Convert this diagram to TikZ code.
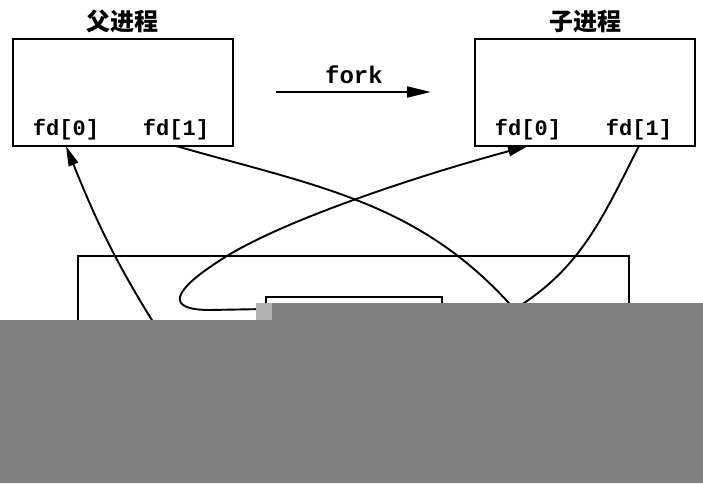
\documentclass[tikz,border=0pt]{standalone}
\usepackage{fontspec}
\setmonofont{Liberation Mono}
\newfontfamily\cjk{Noto Sans CJK SC}
\usetikzlibrary{positioning}
\usetikzlibrary{arrows.meta}
\definecolor{maskgray}{RGB}{128,128,128}
\definecolor{dithergray}{RGB}{176,176,176}

\begin{document}
\begin{tikzpicture}[x=0.5pt, y=0.5pt, line width=1pt,
	procbox/.style={draw, rectangle, inner sep=0pt, minimum width=110pt, minimum height=53.5pt},
	fdtxt/.style={font=\fontsize{11}{11}\ttfamily\bfseries, inner xsep=0pt, inner ysep=2.5pt, anchor=south},
	proctitle/.style={font=\fontsize{12}{12}\cjk\bfseries, inner sep=0pt},
	pipeline/.style={line width=0.95pt},
	>={Triangle[length=10pt, width=5pt]}]
 	 % Fix the size of the picture
 	 \useasboundingbox (0,0) rectangle (703,-483);

 	 % The two processes
 	 \node[procbox] (par) at (122.5,-92.5) {};
 	 \node[procbox] (chd) at (585,-92.5) {};
 	 \node[proctitle, above=2pt of par] (partitle) {父进程};
 	 \node[proctitle, above=2pt of chd] (chdtitle) {子进程};
 	 \node[fdtxt] (pfd0) at (66,-146) {fd[0]};
 	 \node[fdtxt] (pfd1) at (176,-146) {fd[1]};
 	 \node[fdtxt] (cfd0) at (528,-146) {fd[0]};
 	 \node[fdtxt] (cfd1) at (639,-146) {fd[1]};

 	 % fork arrow
 	 \node[font=\fontsize{12}{12}\ttfamily\bfseries] (forklbl) at (354,-75) {fork};
 	 \coordinate (fs) at (276,-92);
 	 \coordinate (fe) at (431,-92);
 	 \draw[->, >={Triangle[length=12pt, width=5.5pt]}] (fs) -- (fe);

 	 % Kernel with the pipe in it
 	 \node[draw, inner sep=0pt, minimum width=275.5pt, minimum height=100pt] (kern) at (353.5,-356) {};
 	 \node[draw, inner sep=0pt, minimum width=88pt, minimum height=30pt] (pipe) at (354,-327) {};

 	 % Free ends of the connectors
 	 \coordinate (k0) at (155,-325);
 	 \coordinate (k1) at (522,-318);
 	 \coordinate (k3) at (508,-313);
 	 \coordinate (pin) at ([yshift=-6.5pt]pipe.north west);
 	 \coordinate (turn) at (210,-310);
 	 \coordinate (loop) at (227,-256);

 	 \draw[pipeline, ->] (k0) to[out=122,in=-68] (pfd0.south);
 	 \draw[pipeline] (pfd1.south) to[out=-16,in=130] (k1);
 	 \draw[pipeline, ->] (pin) -- (turn) .. controls (165,-310) and (170,-291) .. (loop) .. controls (287,-219) and (420,-175) .. (cfd0.south);
 	 \draw[pipeline] (cfd1.south) to[out=243,in=30] (k3);

 	 % Grey patch over the lower part
 	 \fill[maskgray] (0,-320) -- (272,-320) -- (272,-303) -- (703,-303) -- (703,-483) -- (0,-483) -- cycle;
 	 \fill[dithergray] (256,-303) rectangle (272,-320);
\end{tikzpicture}
\end{document}
